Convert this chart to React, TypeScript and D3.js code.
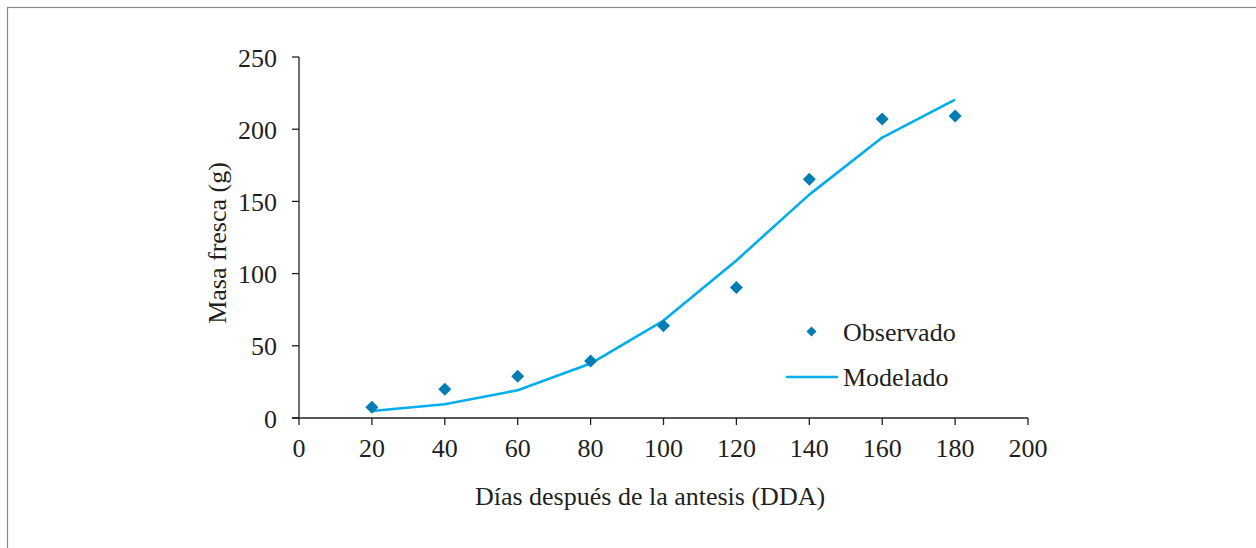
import React from "react";
import * as d3 from "d3";

const days = [20, 40, 60, 80, 100, 120, 140, 160, 180];
const observado = [7.4, 19.9, 28.9, 39.5, 63.8, 90.3, 165.3, 207.1, 209.2];
const modelado = [4.9, 9.5, 19.2, 37.7, 67.5, 109.1, 154.7, 194.2, 220.5];
const xTicks = [0, 20, 40, 60, 80, 100, 120, 140, 160, 180, 200];
const yTicks = [0, 50, 100, 150, 200, 250];

const W = 1256;
const H = 548;
const FONT = "'Liberation Serif', 'Times New Roman', serif";
const TEXT = "#231f20";
const AXIS = "#231f20";

export default function App() {
  const x = d3.scaleLinear().domain([0, 200]).range([299, 1028]);
  const y = d3.scaleLinear().domain([0, 250]).range([418, 57]);
  const line = d3
    .line<number>()
    .x((_, i) => x(days[i]))
    .y((d) => y(d));
  const diamond = (cx: number, cy: number, r: number) =>
    `M${cx},${cy - r}L${cx + r},${cy}L${cx},${cy + r}L${cx - r},${cy}Z`;

  return (
    <svg
      width={W}
      height={H}
      style={{ position: "absolute", left: 0, top: 0, background: "#fff" }}
      fontFamily={FONT}
    >
      <rect x={0} y={0} width={W} height={H} fill="#fff" />
      <rect x={7.5} y={7.5} width={W + 50} height={H + 50} fill="none" stroke="#8a8a8a" strokeWidth={1.2} />

      {/* y axis */}
      <line x1={x(0)} x2={x(0)} y1={y(250)} y2={y(0)} stroke={AXIS} strokeWidth={1.3} />
      {yTicks.map((t) => (
        <g key={"y" + t}>
          <line x1={x(0) - 7} x2={x(0)} y1={y(t)} y2={y(t)} stroke={AXIS} strokeWidth={1.3} />
          <text x={277} y={y(t) + 9.5} textAnchor="end" fontSize={26} fill={TEXT}>
            {t}
          </text>
        </g>
      ))}

      {/* x axis */}
      <line x1={x(0) - 7} x2={x(200)} y1={y(0)} y2={y(0)} stroke={AXIS} strokeWidth={1.3} />
      {xTicks.map((t) => (
        <g key={"x" + t}>
          <line x1={x(t)} x2={x(t)} y1={y(0)} y2={y(0) + 7} stroke={AXIS} strokeWidth={1.3} />
          <text x={x(t)} y={457} textAnchor="middle" fontSize={26} fill={TEXT}>
            {t}
          </text>
        </g>
      ))}

      {/* axis titles */}
      <text x={650} y={505} textAnchor="middle" fontSize={26} fill={TEXT}>
        Días después de la antesis (DDA)
      </text>
      <text
        transform={`translate(226, 243) rotate(-90)`}
        textAnchor="middle"
        fontSize={26}
        fill={TEXT}
      >
        Masa fresca (g)
      </text>

      {/* modelado line */}
      <path d={line(modelado) || ""} fill="none" stroke="#00aeef" strokeWidth={2.6} strokeLinejoin="round" />

      {/* observado points */}
      {observado.map((v, i) => (
        <path key={"o" + i} d={diamond(x(days[i]), y(v), 6.5)} fill="#007db3" />
      ))}

      {/* legend */}
      <path d={diamond(811.5, 331.5, 5)} fill="#007db3" />
      <text x={843} y={341} fontSize={26} fill={TEXT}>
        Observado
      </text>
      <line x1={786} x2={838} y1={377} y2={377} stroke="#00aeef" strokeWidth={2.6} />
      <text x={843} y={386} fontSize={26} fill={TEXT}>
        Modelado
      </text>
    </svg>
  );
}
